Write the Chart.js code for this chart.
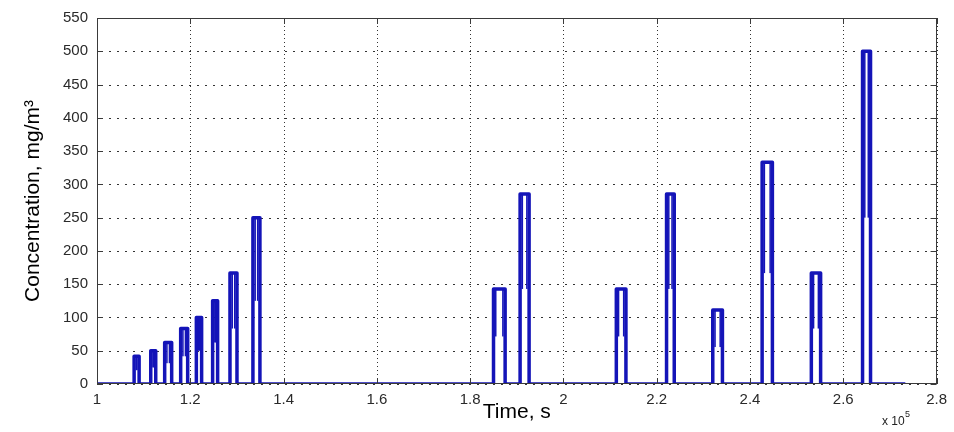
<!DOCTYPE html>
<html>
<head>
<meta charset="utf-8">
<script src="https://cdn.jsdelivr.net/npm/chart.js@4.4.1/dist/chart.umd.min.js"></script>
<style>
html,body{margin:0;padding:0;background:#fff;}
#wrap{width:954px;height:432px;position:relative;}
</style>
</head>
<body>
<div id="wrap"><canvas id="c" width="954" height="432"></canvas></div>
<script>
// Time axis values are in units of 10^5 s
const pulseStart = [1.0796,1.1152,1.1451,1.1794,1.2130,1.2479,1.2851,1.3343,1.8501,1.9071,2.1134,2.2211,2.3202,2.4260,2.5315,2.6413];
const pulseEnd   = [1.0903,1.1259,1.1601,1.1944,1.2243,1.2586,1.3001,1.3493,1.8750,1.9264,2.1340,2.2376,2.3409,2.4480,2.5514,2.6584];
const pulsePeak  = [41.7,50,62.5,83.3,100,125,166.7,250,142.9,285.7,142.9,285.7,111.1,333.3,166.7,500];
const timeFirst = 1.0;
const timeLast = 2.733;
const xTicks = [1,1.2,1.4,1.6,1.8,2,2.2,2.4,2.6,2.8];
const yTicks = [0,50,100,150,200,250,300,350,400,450,500,550];

const LINE = '#1414b8';

const pts = [{x: timeFirst, y: 0}];
for (let i = 0; i < pulseStart.length; i++) {
  pts.push({x: pulseStart[i], y: 0});
  pts.push({x: pulseStart[i], y: pulsePeak[i]});
  pts.push({x: pulseEnd[i], y: pulsePeak[i]});
  pts.push({x: pulseEnd[i], y: 0});
}
pts.push({x: timeLast, y: 0});

const boxPlugin = {
  id: 'box',
  beforeDatasetsDraw(chart) {
    const {ctx, chartArea: a, scales: {x, y}} = chart;
    ctx.save();
    ctx.strokeStyle = '#333';
    ctx.lineWidth = 1;
    ctx.setLineDash([1, 3]);
    xTicks.forEach(v => {
      const px = Math.round(x.getPixelForValue(v)) + 0.5;
      ctx.beginPath(); ctx.moveTo(px, a.top); ctx.lineTo(px, a.bottom); ctx.stroke();
    });
    ctx.setLineDash([2, 6]);
    yTicks.forEach(v => {
      const py = Math.round(y.getPixelForValue(v)) + 0.5;
      ctx.beginPath(); ctx.moveTo(a.left + 4, py); ctx.lineTo(a.right, py); ctx.stroke();
    });
    ctx.restore();
  },
  afterDatasetsDraw(chart) {
    const {ctx, chartArea: a, scales: {x, y}} = chart;
    ctx.save();
    // inner thickening of upper halves of pulse edges
    ctx.fillStyle = LINE;
    for (let i = 0; i < pulseStart.length; i++) {
      const xs = x.getPixelForValue(pulseStart[i]);
      const xe = x.getPixelForValue(pulseEnd[i]);
      const yt = y.getPixelForValue(pulsePeak[i]);
      const yh = y.getPixelForValue(pulsePeak[i] / 2);
      ctx.fillRect(xs + 1.5, yt, 1.5, yh - yt);
      ctx.fillRect(xe - 3, yt, 1.5, yh - yt);
    }
    // box
    ctx.strokeStyle = '#3a3a3a';
    ctx.lineWidth = 1;
    ctx.strokeRect(Math.round(a.left) + 0.5, Math.round(a.top) + 0.5, Math.round(a.right - a.left) - 1, Math.round(a.bottom - a.top) - 1);
    // inward ticks
    const tl = 6;
    ctx.beginPath();
    xTicks.forEach(v => {
      const px = Math.round(x.getPixelForValue(v)) + 0.5;
      ctx.moveTo(px, a.bottom); ctx.lineTo(px, a.bottom - tl);
      ctx.moveTo(px, a.top); ctx.lineTo(px, a.top + tl);
    });
    yTicks.forEach(v => {
      const py = Math.round(y.getPixelForValue(v)) + 0.5;
      ctx.moveTo(a.left, py); ctx.lineTo(a.left + tl, py);
      ctx.moveTo(a.right, py); ctx.lineTo(a.right - tl, py);
    });
    ctx.stroke();
    // exponent label
    ctx.fillStyle = '#222';
    ctx.textBaseline = 'alphabetic';
    ctx.font = '12px "Liberation Sans", Arial, sans-serif';
    ctx.fillText('x 10', 882, 425);
    ctx.font = '9px "Liberation Sans", Arial, sans-serif';
    ctx.fillText('5', 905, 417);
    ctx.restore();
  }
};

new Chart(document.getElementById('c'), {
  type: 'line',
  data: {
    datasets: [{
      data: pts,
      borderColor: LINE,
      borderWidth: 3.5,
      pointRadius: 0,
      tension: 0,
      fill: false,
      borderJoinStyle: 'round',
      borderCapStyle: 'butt'
    }]
  },
  options: {
    responsive: false,
    animation: false,
    events: [],
    layout: {padding: {left: 0, top: 14, right: 15, bottom: 0}},
    plugins: {legend: {display: false}, tooltip: {enabled: false}},
    scales: {
      x: {
        type: 'linear',
        min: 1, max: 2.8,
        afterFit(s) { s.height = 48; },
        afterBuildTicks(s) { s.ticks = xTicks.map(v => ({value: v})); },
        grid: {display: false, drawTicks: false},
        border: {display: false},
        ticks: {
          padding: 7,
          color: '#2a2a2a',
          font: {family: '"Liberation Sans", Arial, sans-serif', size: 15},
          maxRotation: 0,
          autoSkip: false,
          callback: v => String(v)
        },
        title: {
          display: true,
          text: 'Time, s',
          color: '#000',
          font: {family: '"Liberation Sans", Arial, sans-serif', size: 21},
          padding: {top: 0, bottom: 7}
        }
      },
      y: {
        type: 'linear',
        min: 0, max: 550,
        afterFit(s) { s.width = 97; },
        afterBuildTicks(s) { s.ticks = yTicks.map(v => ({value: v})); },
        grid: {display: false, drawTicks: false},
        border: {display: false},
        ticks: {
          padding: 9,
          color: '#2a2a2a',
          font: {family: '"Liberation Sans", Arial, sans-serif', size: 15},
          autoSkip: false,
          callback: v => String(v)
        },
        title: {
          display: true,
          text: 'Concentration, mg/m³',
          color: '#000',
          font: {family: '"Liberation Sans", Arial, sans-serif', size: 21},
          padding: {top: 21, bottom: 0}
        }
      }
    }
  },
  plugins: [boxPlugin]
});
</script>
</body>
</html>
